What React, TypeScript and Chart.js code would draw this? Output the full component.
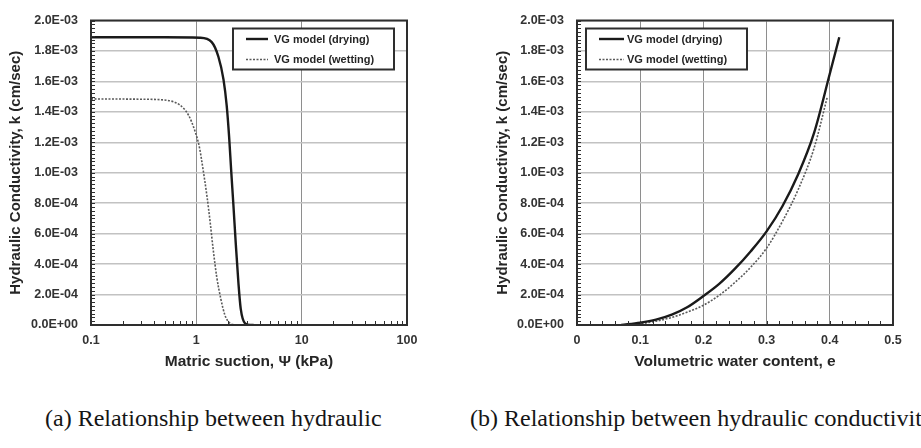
import React, { useEffect, useRef } from "react";
import { Chart, registerables } from "chart.js";

Chart.register(...registerables);

// Axis tick values
const SUCTION_TICKS = [0.1, 1, 10, 100];
const CONTENT_TICKS = [0, 0.1, 0.2, 0.3, 0.4, 0.5];
const K_TICKS = [0, 0.0002, 0.0004, 0.0006, 0.0008, 0.001, 0.0012, 0.0014, 0.0016, 0.0018, 0.002];

// Hydraulic conductivity vs. matric suction (kPa)
const DRY_PSI = [0.1, 0.5, 1.08, 1.4, 1.62, 1.81, 1.94, 2.05, 2.14, 2.25, 2.37, 2.51, 2.64, 2.9, 3.24, 3.5];
const DRY_K_PSI = [
  0.00189, 0.00189, 0.001887, 0.001858, 0.001762, 0.001613, 0.001444, 0.001231, 0.001019, 0.000785,
  0.000531, 0.000276, 0.000106, 0.000011, 0, 0,
];
const WET_PSI = [0.1, 0.3, 0.52, 0.7, 0.84, 0.97, 1.07, 1.16, 1.26, 1.35, 1.45, 1.56, 1.71, 1.87, 2.09, 2.33];
const WET_K_PSI = [
  0.001485, 0.001483, 0.001476, 0.001444, 0.00138, 0.001274, 0.001167, 0.001019, 0.000849, 0.00068,
  0.000488, 0.000318, 0.00017, 0.000064, 0.000011, 0,
];

// Hydraulic conductivity vs. volumetric water content
const DRY_THETA = [0.07, 0.1, 0.125, 0.15, 0.175, 0.2, 0.225, 0.25, 0.275, 0.3, 0.325, 0.35, 0.375, 0.4, 0.415];
const DRY_K_THETA = [
  0, 0.000015, 0.000035, 0.000068, 0.000118, 0.00019, 0.00027, 0.00037, 0.000485, 0.000615, 0.00078,
  0.00099, 0.00126, 0.00165, 0.00189,
];
const WET_THETA = [0.08, 0.1, 0.125, 0.15, 0.175, 0.2, 0.225, 0.25, 0.275, 0.3, 0.325, 0.35, 0.375, 0.396];
const WET_K_THETA = [
  0, 0.000008, 0.000025, 0.00005, 0.000085, 0.00013, 0.000195, 0.00028, 0.00038, 0.000505, 0.00068,
  0.00089, 0.00116, 0.001497,
];

const LABEL_DRY = "VG model (drying)";
const LABEL_WET = "VG model (wetting)";
const Y_TITLE = "Hydraulic Conductivity, k (cm/sec)";
const X_TITLE_A = "Matric suction, \u03A8 (kPa)";
const X_TITLE_B = "Volumetric water content, e";
const CAPTION_A = "(a) Relationship between hydraulic";
const CAPTION_B = "(b) Relationship between hydraulic conductivity and volumetric water content";

const FONT = "'Liberation Sans', Arial, sans-serif";
const TICK_COLOR = "#333";
const FRAME_COLOR = "#2e2e2e";

const pts = (xs: number[], ys: number[]) => xs.map((x, i) => ({ x, y: ys[i] }));

const formatK = (v: number) => {
  const [m, e] = Number(v).toExponential(1).split("e");
  const n = parseInt(e, 10);
  return `${m}E${n < 0 ? "-" : "+"}${String(Math.abs(n)).padStart(2, "0")}`;
};

// minor tick marks along the left and bottom edges
const yMinor: number[] = [];
for (let i = 0; i <= 80; i++) yMinor.push(i * 0.000025);
const logMinor: number[] = [];
[0.1, 1, 10].forEach((d) => {
  for (let k = 2; k <= 9; k++) logMinor.push(d * k);
});
const linMinor: number[] = [];
for (let i = 0; i <= 25; i++) linMinor.push(i * 0.02);

const framePlugin = {
  id: "frame",
  afterDatasetsDraw(chart: any, _args: any, opts: any) {
    const { ctx, chartArea: a } = chart;
    const xs = chart.scales.x;
    const ys = chart.scales.y;
    ctx.save();
    ctx.strokeStyle = FRAME_COLOR;
    ctx.lineWidth = 1;
    ctx.beginPath();
    for (const v of opts.xMinor as number[]) {
      const px = Math.round(xs.getPixelForValue(v)) + 0.5;
      ctx.moveTo(px, a.bottom);
      ctx.lineTo(px, a.bottom - 4);
    }
    for (const v of yMinor) {
      const py = Math.round(ys.getPixelForValue(v)) + 0.5;
      ctx.moveTo(a.left, py);
      ctx.lineTo(a.left + 4, py);
    }
    ctx.stroke();

    ctx.lineWidth = 2;
    ctx.strokeRect(a.left, a.top, a.right - a.left, a.bottom - a.top);

    // legend box
    const lx = a.left + opts.legendX;
    const ly = a.top + opts.legendY;
    const w = 161;
    const h = 41;
    ctx.fillStyle = "#fff";
    ctx.fillRect(lx, ly, w, h);
    ctx.strokeRect(lx, ly, w, h);
    ctx.font = `bold 11px ${FONT}`;
    ctx.textBaseline = "middle";
    ctx.textAlign = "left";
    chart.data.datasets.forEach((ds: any, i: number) => {
      const ry = ly + 10.5 + i * 20.5;
      ctx.save();
      ctx.strokeStyle = ds.borderColor;
      ctx.lineWidth = ds.borderWidth;
      ctx.setLineDash(ds.borderDash || []);
      ctx.beginPath();
      ctx.moveTo(lx + 13, ry);
      ctx.lineTo(lx + opts.sampleEnd, ry);
      ctx.stroke();
      ctx.restore();
      ctx.fillStyle = "#262626";
      ctx.fillText(ds.label, lx + 41, ry + 0.5);
    });
    ctx.restore();
  },
};

function makeConfig(opts: {
  logX: boolean;
  dry: { x: number; y: number }[];
  wet: { x: number; y: number }[];
  xTicks: number[];
  xTitle: string;
  xMinor: number[];
  padRight: number;
  yWidth: number;
  yTitlePad: number;
  legendX: number;
  sampleEnd: number;
}) {
  const tickFont = { family: FONT, size: 12.5, weight: "bold" as const };
  return {
    type: "line" as const,
    data: {
      datasets: [
        {
          label: LABEL_DRY,
          data: opts.dry,
          borderColor: "#1a1a1a",
          borderWidth: 2.4,
          pointRadius: 0,
          fill: false,
          cubicInterpolationMode: "monotone" as const,
        },
        {
          label: LABEL_WET,
          data: opts.wet,
          borderColor: "#5a5a5a",
          borderWidth: 1.6,
          borderDash: [2, 1.5],
          pointRadius: 0,
          fill: false,
          cubicInterpolationMode: "monotone" as const,
        },
      ],
    },
    options: {
      responsive: false,
      animation: false as const,
      devicePixelRatio: 1,
      layout: { padding: { top: 11, right: opts.padRight, left: 0, bottom: 0 } },
      plugins: {
        legend: { display: false },
        tooltip: { enabled: false },
        frame: { xMinor: opts.xMinor, legendX: opts.legendX, legendY: 8, sampleEnd: opts.sampleEnd },
      },
      scales: {
        x: {
          type: opts.logX ? "logarithmic" : "linear",
          min: opts.xTicks[0],
          max: opts.xTicks[opts.xTicks.length - 1],
          afterBuildTicks: (s: any) => {
            s.ticks = opts.xTicks.map((v) => ({ value: v }));
          },
          afterFit: (s: any) => {
            s.height = 55;
          },
          ticks: {
            callback: (v: any) => String(v),
            font: tickFont,
            color: TICK_COLOR,
            padding: 8,
            maxRotation: 0,
            autoSkip: false,
          },
          grid: { color: "#8e8e8e", lineWidth: 1, drawTicks: false },
          border: { display: false },
          title: {
            display: true,
            text: opts.xTitle,
            font: { family: FONT, size: 15.5, weight: "bold" as const },
            color: "#262626",
            padding: { top: 0, bottom: 9 },
          },
        },
        y: {
          type: "linear",
          min: 0,
          max: 0.002,
          afterBuildTicks: (s: any) => {
            s.ticks = K_TICKS.map((v) => ({ value: v }));
          },
          afterFit: (s: any) => {
            s.width = opts.yWidth;
          },
          ticks: {
            callback: (v: any) => formatK(v),
            font: tickFont,
            color: TICK_COLOR,
            padding: 13,
            autoSkip: false,
          },
          grid: { color: "#c2c2c2", lineWidth: 1.5, drawTicks: false },
          border: { display: false },
          title: {
            display: true,
            text: Y_TITLE,
            font: { family: FONT, size: 15, weight: "bold" as const },
            color: "#262626",
            padding: { top: opts.yTitlePad, bottom: 0 },
          },
        },
      },
    },
    plugins: [framePlugin],
  };
}

function ChartCanvas({ config, width, height }: { config: any; width: number; height: number }) {
  const ref = useRef<HTMLCanvasElement | null>(null);
  useEffect(() => {
    if (!ref.current) return;
    const chart = new Chart(ref.current, config);
    return () => chart.destroy();
  }, [config]);
  return <canvas ref={ref} width={width} height={height} style={{ display: "block", width, height }} />;
}

const configA = makeConfig({
  logX: true,
  dry: pts(DRY_PSI, DRY_K_PSI),
  wet: pts(WET_PSI, WET_K_PSI),
  xTicks: SUCTION_TICKS,
  xTitle: X_TITLE_A,
  xMinor: logMinor,
  padRight: 53,
  yWidth: 91,
  yTitlePad: 7,
  legendX: 142,
  sampleEnd: 35,
});

const configB = makeConfig({
  logX: false,
  dry: pts(DRY_THETA, DRY_K_THETA),
  wet: pts(WET_THETA, WET_K_THETA),
  xTicks: CONTENT_TICKS,
  xTitle: X_TITLE_B,
  xMinor: linMinor,
  padRight: 28,
  yWidth: 117,
  yTitlePad: 34,
  legendX: 9,
  sampleEnd: 38,
});

const captionStyle: React.CSSProperties = {
  position: "absolute",
  top: 404,
  fontFamily: "'Liberation Serif', 'Times New Roman', serif",
  fontSize: 24,
  color: "#151515",
  whiteSpace: "nowrap",
  lineHeight: "28px",
};

export default function App() {
  return (
    <div
      style={{
        position: "fixed",
        left: 0,
        top: 0,
        width: 921,
        height: 448,
        background: "#fff",
        overflow: "hidden",
      }}
    >
      <div style={{ position: "absolute", left: 0, top: 0 }}>
        <ChartCanvas config={configA} width={460} height={380} />
      </div>
      <div style={{ position: "absolute", left: 460, top: 0 }}>
        <ChartCanvas config={configB} width={461} height={380} />
      </div>
      <div style={{ ...captionStyle, left: 45 }}>{CAPTION_A}</div>
      <div style={{ ...captionStyle, left: 470 }}>{CAPTION_B}</div>
    </div>
  );
}
